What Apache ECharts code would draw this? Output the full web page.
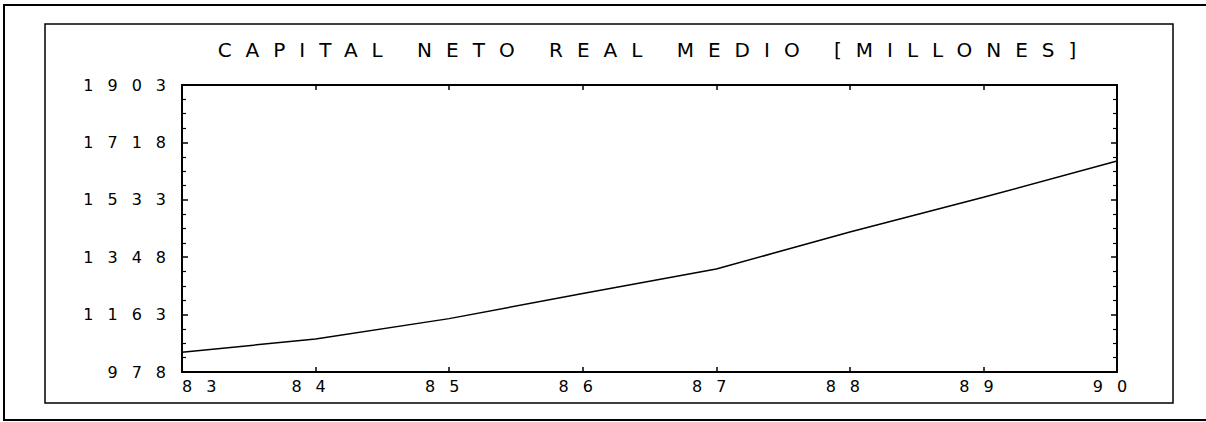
<!DOCTYPE html>
<html>
<head>
<meta charset="utf-8">
<script src="https://cdn.jsdelivr.net/npm/echarts@6/dist/echarts.min.js"></script>
<style>
  html, body { margin: 0; padding: 0; background: #fff; }
  #main { width: 1206px; height: 422px; }
  /* old plotter font: very wide character pitch */
  #main text { letter-spacing: 14px; }
</style>
</head>
<body>
<div id="main"></div>
<script>
// capital neto real medio, 1983-1990 (millones)
const years = [83, 84, 85, 86, 87, 88, 89, 90];
const capital = [1042, 1084, 1150, 1231, 1310, 1429, 1541, 1658];
const yMin = 978, yMax = 1903, yStep = 185;
const titleText = 'CAPITAL NETO REAL MEDIO [MILLONES]';

const chart = echarts.init(document.getElementById('main'), null, {renderer: 'svg'});

const black = '#000';
const font = 'DejaVu Sans';

function xAxisOf(pos, labels) {
    return {
        type: 'value', position: pos, min: 83, max: 90, interval: 1,
        axisLine: {show: true, onZero: false, lineStyle: {color: black, width: 2}},
        axisTick: {show: true, inside: true, length: 5, lineStyle: {color: black, width: 1.5}},
        axisLabel: {
            show: labels, color: black, fontSize: 16, fontFamily: font, margin: 6,
            showMinLabel: true, showMaxLabel: true, alignMinLabel: 'left',
            formatter: v => String(v)
        },
        splitLine: {show: false}
    };
}

function yAxisOf(pos, labels) {
    return {
        type: 'value', position: pos, min: yMin, max: yMax, interval: yStep,
        axisLine: {show: true, onZero: false, lineStyle: {color: black, width: 2}},
        axisTick: {show: true, inside: true, length: 6, lineStyle: {color: black, width: 1.5}},
        minorTick: {show: true, splitNumber: 4, length: 4, lineStyle: {color: black, width: 1.2}},
        axisLabel: {
            show: labels, color: black, fontSize: 16, fontFamily: font, margin: 2,
            formatter: v => String(v)
        },
        splitLine: {show: false}
    };
}

chart.setOption({
    animation: false,
    backgroundColor: '#fff',
    textStyle: {fontFamily: font},
    title: {
        text: titleText, left: 649, top: 35, textAlign: 'center',
        textStyle: {fontSize: 20, fontWeight: 'normal', color: black, fontFamily: font}
    },
    grid: {left: 182, right: 89, top: 85, bottom: 50},
    xAxis: [xAxisOf('bottom', true), xAxisOf('top', false)],
    yAxis: [yAxisOf('left', true), yAxisOf('right', false)],
    series: [{
        type: 'line',
        data: years.map((y, i) => [y, capital[i]]),
        symbol: 'none',
        lineStyle: {color: black, width: 1.5}
    }],
    graphic: [
        // outer page frame, open on the right
        {type: 'polyline', shape: {points: [[1206, 5], [4, 5], [4, 420], [1206, 420]]},
         style: {fill: 'none', stroke: black, lineWidth: 2}},
        {type: 'rect', shape: {x: 45, y: 24, width: 1128, height: 379},
         style: {fill: 'none', stroke: black, lineWidth: 1.5}}
    ]
});
</script>
</body>
</html>
